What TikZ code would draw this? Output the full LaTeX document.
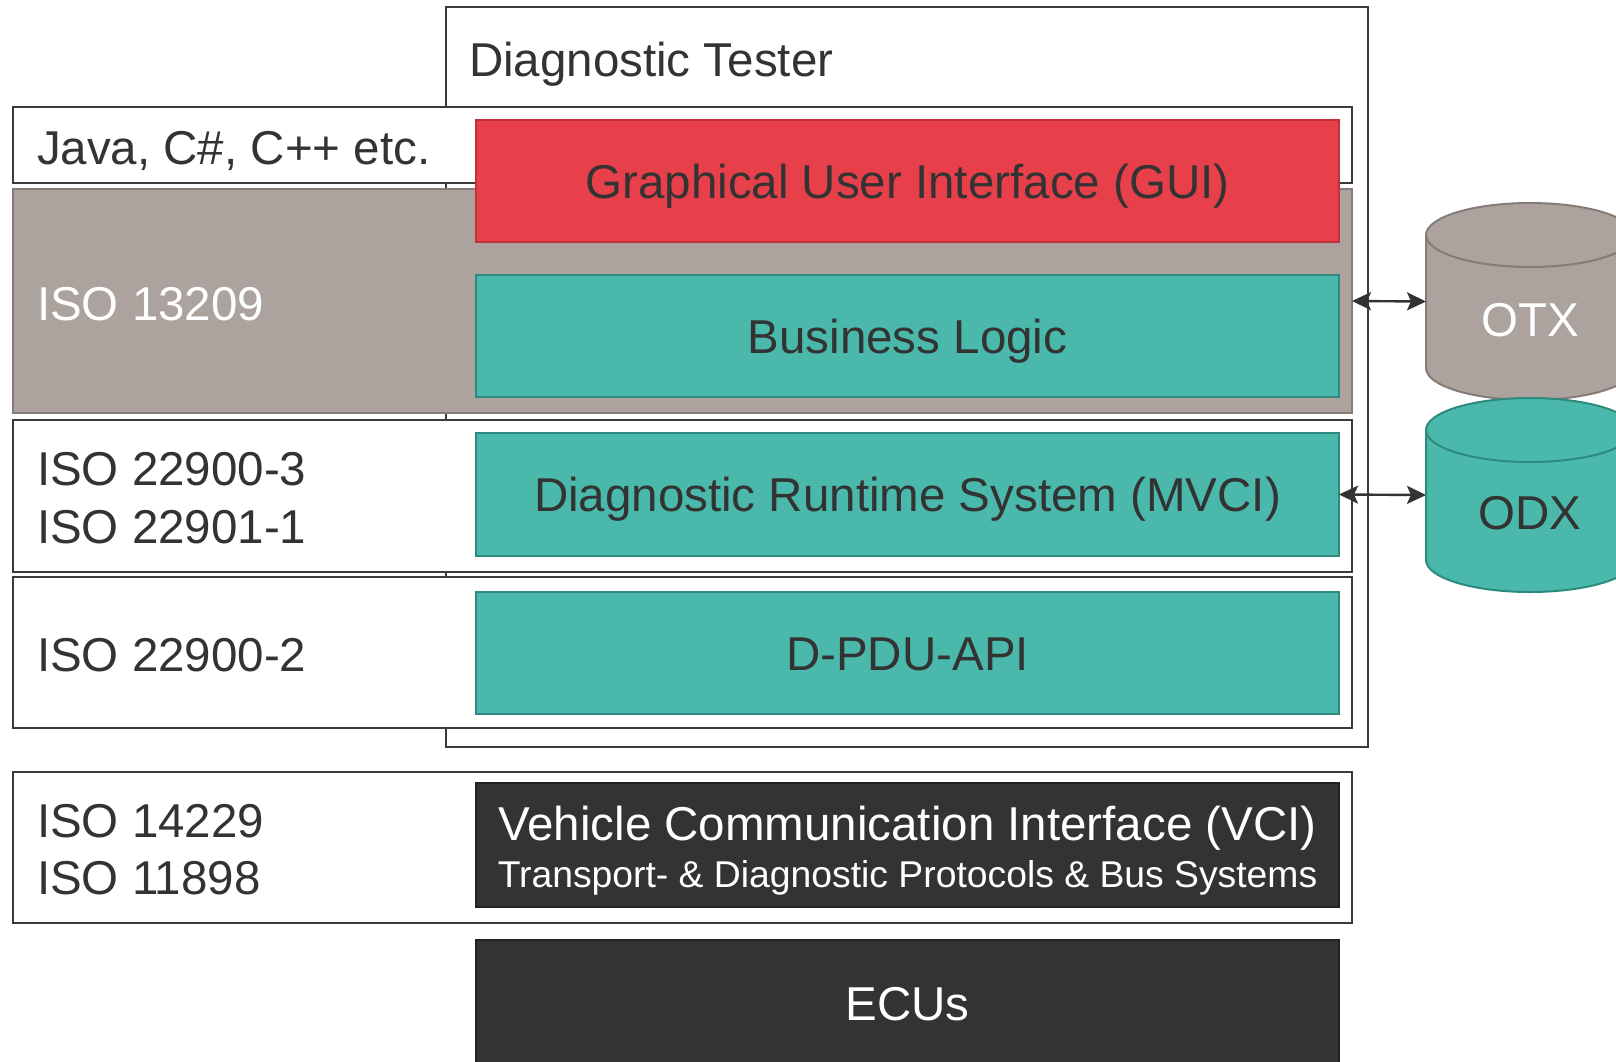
\documentclass[tikz,border=0pt]{standalone}
\usepackage{fontspec}
\setmainfont{Liberation Sans}
\usetikzlibrary{arrows.meta}
\definecolor{ink}{HTML}{333333}
\definecolor{edge}{HTML}{3A3A3A}
\definecolor{redfill}{HTML}{E8404A}
\definecolor{reddraw}{HTML}{C2303A}
\definecolor{tealfill}{HTML}{4AB8AA}
\definecolor{tealdraw}{HTML}{2E8A7F}
\definecolor{grayfill}{HTML}{ACA39E}
\definecolor{graydraw}{HTML}{857C77}
\definecolor{darkfill}{HTML}{333333}
\definecolor{darkdraw}{HTML}{222222}
\begin{document}
\begin{tikzpicture}[x=1pt,y=1pt,
  every node/.style={font=\fontsize{47.5}{57}\selectfont, inner sep=0pt, outer sep=0pt},
  box/.style={rectangle, anchor=north west, line width=2pt, text height=34pt, text depth=0pt},
  wbox/.style={box, draw=edge, fill=white},
  redbox/.style={box, draw=reddraw, fill=redfill, text=ink},
  tealbox/.style={box, draw=tealdraw, fill=tealfill, text=ink},
  darkbox/.style={box, draw=darkdraw, fill=darkfill, text=white},
  graybox/.style={box, draw=graydraw, fill=grayfill},
  lbl/.style={anchor=base west, text=ink},
  wlbl/.style={anchor=base west, text=white},
  cylbox/.style={rectangle, minimum width=208pt},
  tip/.tip={Stealth[length=19pt,width=18pt,inset=4pt]},
  arr/.style={tip-tip, line width=2.4pt, draw=ink, fill=ink}
]
\useasboundingbox (0,0) rectangle (1616,-1061);
\clip (0,0) rectangle (1616,-1061);

% Diagnostic tester frame
\node[wbox, minimum width=922, minimum height=740] (tester) at (446,-7) {};
\node[lbl] (testerlabel) at (469,-76) {Diagnostic Tester};

% left standard rows
\node[wbox, minimum width=1339, minimum height=76] (java) at (13,-107) {};
\node[lbl] (javalabel) at (37,-164) {Java, C\#, C++ etc.};

\node[graybox, minimum width=1339, minimum height=224] (iso13209) at (13,-189) {};
\node[wlbl] (iso13209label) at (37,-320) {ISO 13209};

\node[wbox, minimum width=1339, minimum height=152] (isomvci) at (13,-420) {};
\node[lbl] (isomvcia) at (37,-485) {ISO 22900-3};
\node[lbl] (isomvcib) at (37,-543) {ISO 22901-1};

\node[wbox, minimum width=1339, minimum height=151] (isopdu) at (13,-577) {};
\node[lbl] (isopdulabel) at (37,-671) {ISO 22900-2};

\node[wbox, minimum width=1339, minimum height=151] (isovci) at (13,-772) {};
\node[lbl] (isovcia) at (37,-837) {ISO 14229};
\node[lbl] (isovcib) at (37,-894) {ISO 11898};

% layer boxes
\node[redbox, minimum width=863, minimum height=122] (gui) at (476,-120) {Graphical User Interface (GUI)};
\node[tealbox, minimum width=863, minimum height=122] (business) at (476,-275) {Business Logic};
\node[tealbox, minimum width=863, minimum height=123] (mvci) at (476,-433) {Diagnostic Runtime System (MVCI)};
\node[tealbox, minimum width=863, minimum height=122] (dpdu) at (476,-592) {D-PDU-API};
\node[darkbox, minimum width=863, minimum height=124] (vci) at (476,-783) {};
\node[anchor=base, text=white] (vcia) at (907.5,-840) {Vehicle Communication Interface (VCI)};
\node[anchor=base, text=white, font=\fontsize{37.3}{44}\selectfont] (vcib) at (907.5,-887) {Transport- \& Diagnostic Protocols \& Bus Systems};
\node[darkbox, minimum width=863, minimum height=126] (ecu) at (476,-940) {ECUs};

% OTX cylinder
\draw[line width=2pt, draw=graydraw, fill=grayfill]
  (1426,-235) -- (1426,-368) arc[start angle=180, end angle=360, x radius=104, y radius=32]
  -- (1634,-235) arc[start angle=0, end angle=180, x radius=104, y radius=32] -- cycle;
\draw[line width=2pt, draw=graydraw]
  (1426,-235) arc[start angle=180, end angle=360, x radius=104, y radius=32];
\node[cylbox, minimum height=197pt] (otx) at (1530,-301.5) {};
\node[text=white, text height=34pt, text depth=0pt] (otxlabel) at (1530,-319) {OTX};

% ODX cylinder
\draw[line width=2pt, draw=tealdraw, fill=tealfill]
  (1426,-430) -- (1426,-560) arc[start angle=180, end angle=360, x radius=104, y radius=32]
  -- (1634,-430) arc[start angle=0, end angle=180, x radius=104, y radius=32] -- cycle;
\draw[line width=2pt, draw=tealdraw]
  (1426,-430) arc[start angle=180, end angle=360, x radius=104, y radius=32];
\node[cylbox, minimum height=194pt] (odx) at (1530,-495) {};
\node[text=ink, text height=34pt, text depth=0pt] (odxlabel) at (1530,-512) {ODX};

% connectors
\draw[arr] (iso13209.east) -- (otx.west);
\draw[arr] (mvci.east) -- (odx.west);
\end{tikzpicture}
\end{document}
